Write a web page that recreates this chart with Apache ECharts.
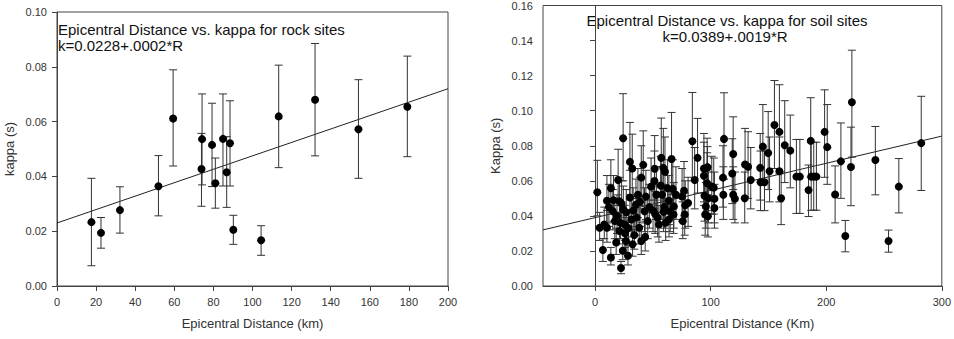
<!DOCTYPE html>
<html><head><meta charset="utf-8">
<script src="https://cdn.jsdelivr.net/npm/echarts@6/dist/echarts.min.js"></script>
<style>html,body{margin:0;padding:0;background:#fff}#c{width:954px;height:339px}</style>
</head><body><div id="c"></div>
<script>
// ---------- Rock sites ----------
const rockX  = [17.6, 22.5, 32.2, 51.9, 59.4, 73.9, 74.2, 79.3, 81.0, 84.9, 86.8, 88.5, 90.2, 104.4, 113.4, 132.0, 154.2, 179.2];
const rockY  = [0.0233, 0.0194, 0.0277, 0.0364, 0.0611, 0.0427, 0.0536, 0.0515, 0.0375, 0.0537, 0.0415, 0.0521, 0.0205, 0.0167, 0.0619, 0.0680, 0.0572, 0.0654];
const rockLo = [0.0074, 0.0138, 0.0193, 0.0256, 0.0438, 0.0291, 0.0369, 0.0363, 0.0284, 0.0365, 0.0287, 0.0365, 0.0152, 0.0112, 0.0432, 0.0475, 0.0393, 0.0472];
const rockHi = [0.0393, 0.0250, 0.0362, 0.0476, 0.0789, 0.0557, 0.0701, 0.0667, 0.0467, 0.0701, 0.0545, 0.0676, 0.0258, 0.0220, 0.0806, 0.0885, 0.0753, 0.0839];
const rockFitX = [0, 200];
const rockFitY = [0.0230, 0.0720];

// ---------- Soil sites ----------
const soilX = [2, 4, 6.8, 8, 10.3, 10.3, 13.7, 13.7, 15.4, 17.1, 18.3, 20, 21.1, 21.1, 22.5, 24, 24.3, 24.5, 25.7, 26.8,
  28.5, 30.2, 30.2, 31.4, 32.2, 32.5, 35.4, 37.1, 38.2, 40, 40, 41.7, 42.8, 43.4, 45.6, 48.5, 50.2, 51.4, 51.6, 53.1,
  54.2, 55.3, 56.8, 57.3, 59.1, 59.3, 60.5, 61.1, 62.8, 63.9, 65, 66.2, 67.3, 67.9, 68.2, 75.3, 75.9, 77, 77.6, 80.5,
  84.2, 86.2, 88.7, 94.2, 94.2, 94.7, 95.3, 95.9, 97, 97, 97.6, 98.1, 97.3, 101, 102.7, 103.3, 103.3, 110.7, 111, 111.6,
  118.7, 119.5, 119.5, 121, 129.5, 129.8, 132.4, 134.7, 142.9, 143.2, 145.2, 146.6, 149.8, 151, 155.2, 159.5, 159.5, 161, 164.1, 168.9,
  174.2, 177.2, 184.7, 186.6, 187, 189.2, 191.5, 198.6, 200.9, 207.7, 212.7, 216.5, 222.2, 221.4, 242.5, 253.9, 262.8, 282.2,
  12, 16, 19, 22, 23, 26, 27, 29, 33, 34, 36, 39, 44, 47, 52, 58, 60, 64, 70, 78];
const soilY = [0.0535, 0.0332, 0.0205, 0.0351, 0.0332, 0.0486, 0.0163, 0.0558, 0.0426, 0.0370, 0.0248, 0.0605, 0.0483, 0.0314, 0.0103, 0.0201, 0.0843, 0.0436, 0.0351, 0.0257,
  0.0173, 0.0708, 0.0505, 0.0379, 0.0670, 0.0238, 0.0464, 0.0520, 0.0332, 0.0618, 0.0257, 0.0691, 0.0426, 0.0280, 0.0370, 0.0567, 0.0430, 0.0599, 0.0669, 0.0520,
  0.0389, 0.0351, 0.0573, 0.0731, 0.0674, 0.0423, 0.0652, 0.0361, 0.0558, 0.0486, 0.0426, 0.0724, 0.0554, 0.0408, 0.0454, 0.0511, 0.0370, 0.0543, 0.0408, 0.0473,
  0.0826, 0.0605, 0.0731, 0.0670, 0.0629, 0.0515, 0.0408, 0.0454, 0.0674, 0.0586, 0.0398, 0.0501, 0.0678, 0.0567, 0.0561, 0.0498, 0.0445, 0.0618, 0.0520, 0.0839,
  0.0642, 0.0753, 0.0520, 0.0498, 0.0501, 0.0693, 0.0680, 0.0605, 0.0674, 0.0592, 0.0795, 0.0592, 0.0759, 0.0655, 0.0918, 0.0879, 0.0655, 0.0501, 0.0803, 0.0772,
  0.0624, 0.0624, 0.0547, 0.0828, 0.0624, 0.0624, 0.0624, 0.0879, 0.0792, 0.0522, 0.0711, 0.0285, 0.1048, 0.0679, 0.0719, 0.0257, 0.0567, 0.0815,
  0.045, 0.049, 0.040, 0.036, 0.047, 0.030, 0.042, 0.033, 0.043, 0.029, 0.039, 0.048, 0.051, 0.045, 0.041, 0.052, 0.045, 0.038, 0.052, 0.046];
const soilLo = [0.040, 0.026, 0.014, 0.027, 0.025, 0.036, 0.012, 0.042, 0.032, 0.027, 0.018, 0.046, 0.036, 0.024, 0.007, 0.015, 0.060, 0.032, 0.026, 0.019,
  0.012, 0.052, 0.037, 0.028, 0.050, 0.017, 0.034, 0.039, 0.024, 0.046, 0.018, 0.051, 0.031, 0.020, 0.027, 0.042, 0.031, 0.044, 0.049, 0.038,
  0.028, 0.025, 0.042, 0.053, 0.049, 0.031, 0.048, 0.026, 0.041, 0.035, 0.031, 0.052, 0.041, 0.030, 0.033, 0.037, 0.027, 0.040, 0.029, 0.034,
  0.060, 0.044, 0.053, 0.048, 0.046, 0.037, 0.029, 0.033, 0.049, 0.043, 0.028, 0.036, 0.050, 0.041, 0.041, 0.036, 0.033, 0.045, 0.038, 0.061,
  0.047, 0.055, 0.038, 0.036, 0.036, 0.051, 0.050, 0.044, 0.049, 0.043, 0.058, 0.043, 0.055, 0.048, 0.067, 0.064, 0.048, 0.035, 0.059, 0.056,
  0.0414, 0.0414, 0.0396, 0.062, 0.0432, 0.0432, 0.0432, 0.062, 0.058, 0.036, 0.050, 0.0195, 0.0735, 0.0458, 0.052, 0.0193, 0.0417, 0.0545,
  0.034, 0.037, 0.030, 0.027, 0.035, 0.022, 0.031, 0.024, 0.032, 0.021, 0.029, 0.036, 0.038, 0.033, 0.030, 0.038, 0.033, 0.028, 0.038, 0.033];
const soilHi = [0.0717, 0.042, 0.027, 0.045, 0.043, 0.063, 0.022, 0.072, 0.055, 0.050, 0.033, 0.078, 0.062, 0.040, 0.014, 0.027, 0.1097, 0.057, 0.046, 0.034,
  0.023, 0.0933, 0.066, 0.050, 0.0866, 0.032, 0.061, 0.067, 0.044, 0.080, 0.034, 0.0885, 0.056, 0.037, 0.049, 0.073, 0.057, 0.077, 0.0858, 0.068,
  0.051, 0.046, 0.074, 0.0958, 0.0899, 0.055, 0.085, 0.047, 0.072, 0.063, 0.056, 0.099, 0.072, 0.053, 0.059, 0.067, 0.048, 0.071, 0.053, 0.062,
  0.1104, 0.079, 0.0956, 0.087, 0.082, 0.067, 0.053, 0.059, 0.0843, 0.076, 0.052, 0.065, 0.0795, 0.074, 0.073, 0.065, 0.058, 0.080, 0.068, 0.1102,
  0.084, 0.0965, 0.068, 0.065, 0.065, 0.0899, 0.088, 0.079, 0.087, 0.077, 0.1035, 0.077, 0.0995, 0.085, 0.1172, 0.1148, 0.085, 0.065, 0.1057, 0.0975,
  0.0836, 0.0836, 0.069, 0.1074, 0.082, 0.082, 0.082, 0.1119, 0.1035, 0.0685, 0.093, 0.0374, 0.1345, 0.0906, 0.091, 0.0319, 0.0727, 0.1082,
  0.058, 0.063, 0.052, 0.047, 0.060, 0.039, 0.055, 0.043, 0.056, 0.038, 0.051, 0.062, 0.066, 0.058, 0.054, 0.068, 0.058, 0.050, 0.068, 0.060];
const soilFitX = [-45, 300];
const soilFitY = [0.0320, 0.0855];

const rockTicksX = [0, 20, 40, 60, 80, 100, 120, 140, 160, 180, 200];
const soilTicksX = [0, 100, 200, 300];

// ---------- build ----------
const FONT = 'Arial, "Liberation Sans", sans-serif';
const AX = '#444';
const pts = (xs, ys) => xs.map((x, i) => [x, ys[i]]);
const bars = (xs, lo, hi) => xs.map((x, i) => [x, lo[i], hi[i]]);

function renderErr(params, api) {
  const x = api.value(0), lo = api.value(1), hi = api.value(2);
  const p1 = api.coord([x, hi]), p2 = api.coord([x, lo]);
  const w = 4;
  const style = { stroke: '#333', lineWidth: 1 };
  return { type: 'group', children: [
    { type: 'line', shape: { x1: p1[0], y1: p1[1], x2: p2[0], y2: p2[1] }, style },
    { type: 'line', shape: { x1: p1[0] - w, y1: p1[1], x2: p1[0] + w, y2: p1[1] }, style },
    { type: 'line', shape: { x1: p2[0] - w, y1: p2[1], x2: p2[0] + w, y2: p2[1] }, style }
  ]};
}

function xAxisCfg(idx, min, max, name, ticks, interval) {
  const a = {
    gridIndex: idx, type: 'value', min, max,
    name, nameLocation: 'middle', nameGap: 31,
    nameTextStyle: { fontFamily: FONT, fontSize: 13, color: '#333' },
    axisLine: { show: true, lineStyle: { color: AX, width: 1 } },
    axisTick: { show: true, inside: false, length: 5, lineStyle: { color: AX } },
    axisLabel: { fontFamily: FONT, fontSize: 11, color: '#333', margin: 10 },
    splitLine: { show: false }
  };
  if (interval) { a.interval = interval; }
  else {
    a.axisTick.customValues = ticks;
    a.axisLabel.customValues = ticks;
  }
  return a;
}
function yAxisCfg(idx, max, name) {
  return {
    gridIndex: idx, type: 'value', min: 0, max, interval: 0.02,
    name, nameLocation: 'middle', nameGap: 41,
    nameTextStyle: { fontFamily: FONT, fontSize: 13, color: '#333' },
    axisLine: { show: true, lineStyle: { color: AX, width: 1 } },
    axisTick: { show: true, inside: false, length: 5, lineStyle: { color: AX } },
    axisLabel: { fontFamily: FONT, fontSize: 11, color: '#333', margin: 10, formatter: v => v.toFixed(2) },
    splitLine: { show: false }
  };
}

const chart = echarts.init(document.getElementById('c'), null, { renderer: 'svg' });
chart.setOption({
  animation: false,
  backgroundColor: '#fff',
  grid: [
    { left: 57, right: 506, top: 12, bottom: 53, show: true, borderColor: AX, borderWidth: 1, containLabel: false },
    { left: 543, right: 8, top: 3, bottom: 53, show: true, borderColor: AX, borderWidth: 1, containLabel: false }
  ],
  xAxis: [
    xAxisCfg(0, 0, 200, 'Epicentral Distance (km)', rockTicksX, 20),
    xAxisCfg(1, -45, 300, 'Epicentral Distance (Km)', soilTicksX, null)
  ],
  yAxis: [ yAxisCfg(0, 0.10, 'kappa (s)'), yAxisCfg(1, 0.16, 'Kappa (s)') ],
  graphic: [
    { type: 'text', left: 58, top: 22, style: { text: 'Epicentral Distance vs. kappa for rock sites', font: '15px ' + FONT, fill: '#111' } },
    { type: 'text', left: 58, top: 38, style: { text: 'k=0.0228+.0002*R', font: '15px ' + FONT, fill: '#111' } },
    { type: 'text', x: 727, y: 20, style: { text: 'Epicentral Distance vs. kappa for soil sites', font: '15px ' + FONT, fill: '#111', textAlign: 'center', textVerticalAlign: 'middle' } },
    { type: 'text', x: 725, y: 36, style: { text: 'k=0.0389+.0019*R', font: '15px ' + FONT, fill: '#111', textAlign: 'center', textVerticalAlign: 'middle' } }
  ],
  series: [
    { type: 'line', xAxisIndex: 0, yAxisIndex: 0, data: pts(rockFitX, rockFitY), symbol: 'none', lineStyle: { color: '#222', width: 1 }, silent: true, z: 1 },
    { type: 'custom', xAxisIndex: 0, yAxisIndex: 0, data: bars(rockX, rockLo, rockHi), renderItem: renderErr, encode: { x: 0, y: [1, 2] }, z: 2 },
    { type: 'scatter', xAxisIndex: 0, yAxisIndex: 0, data: pts(rockX, rockY), symbol: 'circle', symbolSize: 8, itemStyle: { color: '#000', opacity: 1 }, z: 3 },
    { type: 'line', xAxisIndex: 1, yAxisIndex: 1, data: pts(soilFitX, soilFitY), symbol: 'none', lineStyle: { color: '#222', width: 1 }, silent: true, z: 1 },
    { type: 'custom', xAxisIndex: 1, yAxisIndex: 1, data: bars(soilX, soilLo, soilHi), renderItem: renderErr, encode: { x: 0, y: [1, 2] }, z: 2 },
    { type: 'scatter', xAxisIndex: 1, yAxisIndex: 1, data: pts(soilX, soilY), symbol: 'circle', symbolSize: 8, itemStyle: { color: '#000', opacity: 1 }, z: 3 }
  ]
});
</script>
</body></html>
